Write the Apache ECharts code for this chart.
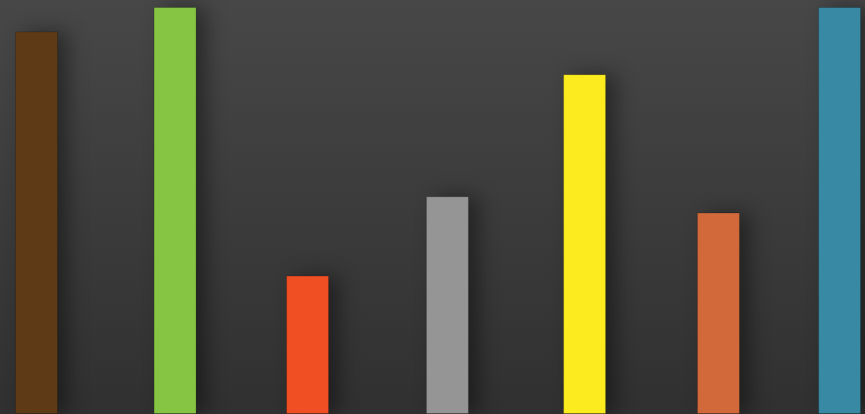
<!DOCTYPE html>
<html>
<head>
<meta charset="utf-8">
<script src="https://cdn.jsdelivr.net/npm/echarts@6/dist/echarts.min.js"></script>
<style>
  html, body { margin: 0; padding: 0; }
  #main { width: 865px; height: 414px; }
</style>
</head>
<body>
<div id="main"></div>
<script>
// bar position along x, heights and colours
var positions = [0, 1.035, 2.025, 3.07, 4.095, 5.095, 6];
var values = [94, 100, 34, 53.5, 83.5, 49.5, 100];
var barColors = ['#5e3a17', '#86c443', '#f04e23', '#959595', '#fbeb1f', '#d2693a', '#3889a3'];

var myChart = echarts.init(document.getElementById('main'));

var option = {
  animation: false,
  backgroundColor: new echarts.graphic.LinearGradient(0, 0, 0, 1, [
    { offset: 0, color: '#474747' },
    { offset: 1, color: '#303030' }
  ]),
  grid: { left: 0, right: 0, top: 7, bottom: 0, containLabel: false },
  xAxis: {
    type: 'value',
    min: -0.273,
    max: 6.19,
    show: false
  },
  yAxis: {
    type: 'value',
    min: 0,
    max: 100,
    show: false
  },
  series: [{
    type: 'bar',
    barWidth: 43,
    data: values.map(function (v, i) {
      return {
        value: [positions[i], v],
        itemStyle: {
          color: barColors[i],
          borderColor: 'rgba(0,0,0,0.18)',
          borderWidth: 1,
          shadowColor: 'rgba(0,0,0,0.4)',
          shadowBlur: 20,
          shadowOffsetX: 10
        }
      };
    })
  }]
};

myChart.setOption(option);
</script>
</body>
</html>
